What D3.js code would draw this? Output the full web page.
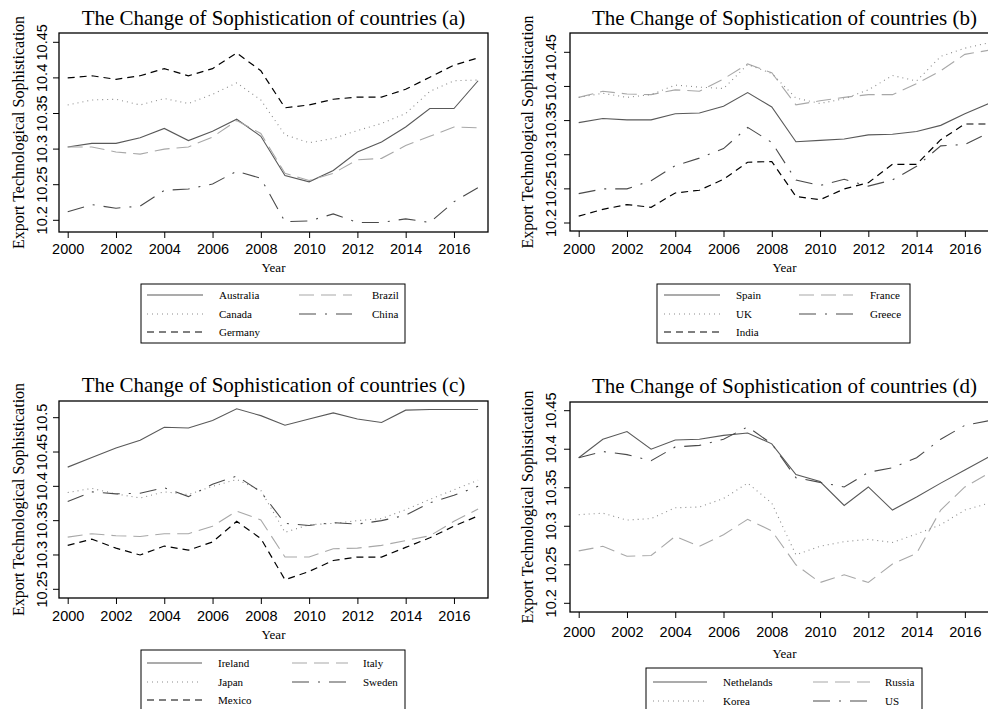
<!DOCTYPE html>
<html>
<head>
<meta charset="utf-8">
<script src="https://cdn.jsdelivr.net/npm/d3@7/dist/d3.min.js"></script>
<style>
  body { margin: 0; background: #fff; }
  svg { display: block; }
</style>
</head>
<body>
<svg id="chart" width="988" height="709"></svg>
<script>
const years = [2000, 2001, 2002, 2003, 2004, 2005, 2006, 2007, 2008, 2009, 2010, 2011, 2012, 2013, 2014, 2015, 2016, 2017];
const yearTicks = [2000, 2002, 2004, 2006, 2008, 2010, 2012, 2014, 2016];

// panel (a)
const australia = [10.303, 10.308, 10.308, 10.316, 10.329, 10.312, 10.325, 10.342, 10.318, 10.263, 10.254, 10.270, 10.296, 10.310, 10.331, 10.357, 10.357, 10.396];
const brazil    = [10.303, 10.303, 10.296, 10.293, 10.300, 10.303, 10.317, 10.340, 10.322, 10.266, 10.256, 10.266, 10.285, 10.287, 10.305, 10.318, 10.331, 10.330];
const canada    = [10.362, 10.369, 10.370, 10.362, 10.371, 10.364, 10.377, 10.393, 10.369, 10.320, 10.309, 10.315, 10.326, 10.336, 10.350, 10.381, 10.396, 10.397];
const china     = [10.212, 10.222, 10.217, 10.220, 10.242, 10.244, 10.251, 10.269, 10.259, 10.198, 10.199, 10.209, 10.197, 10.197, 10.202, 10.197, 10.226, 10.246];
const germany   = [10.400, 10.403, 10.398, 10.403, 10.413, 10.403, 10.413, 10.435, 10.410, 10.358, 10.362, 10.370, 10.373, 10.373, 10.384, 10.401, 10.418, 10.428];

// panel (b)
const spain  = [10.347, 10.353, 10.351, 10.351, 10.360, 10.361, 10.371, 10.391, 10.370, 10.319, 10.321, 10.323, 10.329, 10.330, 10.334, 10.343, 10.360, 10.375];
const france = [10.384, 10.393, 10.389, 10.388, 10.395, 10.393, 10.411, 10.433, 10.420, 10.373, 10.379, 10.384, 10.388, 10.388, 10.404, 10.423, 10.447, 10.453];
const uk     = [10.384, 10.390, 10.384, 10.388, 10.402, 10.399, 10.397, 10.432, 10.419, 10.383, 10.375, 10.382, 10.395, 10.416, 10.408, 10.444, 10.456, 10.464];
const greece = [10.243, 10.250, 10.250, 10.262, 10.284, 10.295, 10.309, 10.340, 10.318, 10.263, 10.255, 10.264, 10.254, 10.263, 10.283, 10.313, 10.315, 10.332];
const india  = [10.210, 10.220, 10.227, 10.223, 10.244, 10.248, 10.264, 10.289, 10.290, 10.239, 10.234, 10.250, 10.259, 10.286, 10.286, 10.322, 10.345, 10.345];

// panel (c)
const ireland = [10.428, 10.442, 10.456, 10.467, 10.486, 10.485, 10.496, 10.513, 10.503, 10.489, 10.498, 10.507, 10.498, 10.493, 10.511, 10.512, 10.512, 10.512];
const italy   = [10.326, 10.331, 10.328, 10.327, 10.331, 10.331, 10.342, 10.364, 10.351, 10.297, 10.297, 10.309, 10.310, 10.314, 10.321, 10.328, 10.349, 10.367];
const japan   = [10.391, 10.397, 10.389, 10.383, 10.392, 10.388, 10.400, 10.410, 10.394, 10.333, 10.344, 10.346, 10.350, 10.353, 10.366, 10.381, 10.395, 10.409];
const sweden  = [10.378, 10.392, 10.389, 10.390, 10.398, 10.385, 10.403, 10.415, 10.392, 10.346, 10.343, 10.347, 10.345, 10.350, 10.358, 10.376, 10.387, 10.400];
const mexico  = [10.314, 10.323, 10.310, 10.300, 10.313, 10.307, 10.319, 10.349, 10.324, 10.264, 10.276, 10.292, 10.297, 10.297, 10.311, 10.325, 10.342, 10.357];

// panel (d)
const nethelands = [10.389, 10.413, 10.423, 10.400, 10.412, 10.413, 10.418, 10.421, 10.407, 10.367, 10.358, 10.327, 10.351, 10.321, 10.338, 10.356, 10.373, 10.390];
const russia     = [10.268, 10.274, 10.261, 10.262, 10.287, 10.274, 10.289, 10.309, 10.294, 10.250, 10.227, 10.237, 10.227, 10.251, 10.265, 10.321, 10.351, 10.369];
const korea      = [10.315, 10.317, 10.308, 10.310, 10.324, 10.325, 10.336, 10.356, 10.330, 10.263, 10.274, 10.280, 10.283, 10.279, 10.290, 10.302, 10.321, 10.330];
const us         = [10.389, 10.397, 10.393, 10.385, 10.403, 10.405, 10.413, 10.429, 10.407, 10.363, 10.357, 10.351, 10.370, 10.376, 10.389, 10.413, 10.431, 10.437];

const ticksA = [10.2, 10.25, 10.3, 10.35, 10.4, 10.45];
const ticksC = [10.25, 10.3, 10.35, 10.4, 10.45, 10.5];

const lineStyles = {
    solid:   { stroke: '#595959', dash: null,         width: 1.1 },
    longdash:{ stroke: '#a8a8a8', dash: '15,7',       width: 1.1 },
    dot:     { stroke: '#8c8c8c', dash: '1,4',        width: 1.1 },
    dashdot: { stroke: '#4a4a4a', dash: '17,9,2,9',   width: 1.1 },
    dash:    { stroke: '#000',    dash: '7,5',        width: 1.2 }
};

const serif = '"Liberation Serif", "Times New Roman", serif';
const sans = '"Liberation Sans", Arial, sans-serif';

const panels = [
    {
        tag: 'a', frame: [59, 33, 488, 232], xr: [67.7, 478.1], yr: [220.3, 42.3], ticks: ticksA,
        titleY: 25, tickLabelX: 42, axisTitleX: 18, xLabelY: 249, yearY: 267,
        series: [['Australia', australia, 'solid'], ['Brazil', brazil, 'longdash'], ['Canada', canada, 'dot'], ['China', china, 'dashdot'], ['Germany', germany, 'dash']],
        legend: { box: [141, 284, 405, 343], rows: [295, 314, 332], cols: [[147, 203, 219], [299, 352, 372]] }
    },
    {
        tag: 'b', frame: [570, 33, 999, 231], xr: [578.7, 989], yr: [223, 52.3], ticks: ticksA,
        titleY: 25, tickLabelX: 551, axisTitleX: 527, xLabelY: 249, yearY: 267,
        series: [['Spain', spain, 'solid'], ['France', france, 'longdash'], ['UK', uk, 'dot'], ['Greece', greece, 'dashdot'], ['India', india, 'dash']],
        legend: { box: [657, 284, 910, 343], rows: [295, 314, 332], cols: [[664, 720, 736], [799, 853, 870]] }
    },
    {
        tag: 'c', frame: [59, 401, 488, 598], xr: [67.7, 478.1], yr: [589.3, 417.7], ticks: ticksC,
        titleY: 392, tickLabelX: 42, axisTitleX: 18, xLabelY: 616, yearY: 634,
        series: [['Ireland', ireland, 'solid'], ['Italy', italy, 'longdash'], ['Japan', japan, 'dot'], ['Sweden', sweden, 'dashdot'], ['Mexico', mexico, 'dash']],
        legend: { box: [141, 650, 405, 720], rows: [663, 682, 700], cols: [[147, 202, 218], [292, 348, 363]] }
    },
    {
        tag: 'd', frame: [570, 402, 999, 612], xr: [578.7, 989], yr: [603.3, 410.7], ticks: ticksA,
        titleY: 393, tickLabelX: 551, axisTitleX: 527, xLabelY: 632, yearY: 653,
        series: [['Nethelands', nethelands, 'solid'], ['Russia', russia, 'longdash'], ['Korea', korea, 'dot'], ['US', us, 'dashdot']],
        legend: { box: [646, 668, 922, 720], rows: [682, 701], cols: [[653, 707, 723], [813, 870, 885]] }
    }
];

const svg = d3.select('#chart');

panels.forEach(p => {
    const [fx0, fy0, fx1, fy1] = p.frame;
    const x = d3.scaleLinear().domain([2000, 2017]).range(p.xr);
    const y = d3.scaleLinear().domain([p.ticks[0], p.ticks[5]]).range(p.yr);
    const g = svg.append('g').classed('panel-' + p.tag, true);

    g.append('text')
        .attr('x', (fx0 + fx1) / 2)
        .attr('y', p.titleY)
        .attr('text-anchor', 'middle')
        .attr('font-family', serif)
        .attr('font-size', 21)
        .text(`The Change of Sophistication of countries (${p.tag})`);

    // y axis: ticks on frame edge, labels rotated
    const yAxis = g.append('g').attr('transform', `translate(${fx0},0)`)
        .call(d3.axisLeft(y).tickValues(p.ticks).tickSize(6).tickFormat(d3.format('')));
    yAxis.select('.domain').remove();
    yAxis.selectAll('line').attr('stroke', '#000');
    yAxis.selectAll('text')
        .attr('x', null).attr('dy', null)
        .attr('transform', d => `translate(${p.tickLabelX - fx0},${y(d)}) rotate(-90)`)
        .attr('y', 0)
        .attr('dy', '0.35em')
        .attr('text-anchor', 'middle')
        .attr('font-family', sans)
        .attr('font-size', 14.5)
        .attr('fill', '#000');
    yAxis.selectAll('.tick').attr('transform', null);
    yAxis.selectAll('.tick line')
        .attr('y1', d => y(d)).attr('y2', d => y(d))
        .attr('x1', -6).attr('x2', 0);

    // x axis
    const xAxis = g.append('g').attr('transform', `translate(0,${fy1})`)
        .call(d3.axisBottom(x).tickValues(yearTicks).tickSize(6).tickFormat(d3.format('d')));
    xAxis.select('.domain').remove();
    xAxis.selectAll('line').attr('stroke', '#000');
    xAxis.selectAll('text')
        .attr('y', p.xLabelY - fy1)
        .attr('dy', '0.35em')
        .attr('font-family', sans)
        .attr('font-size', 14.5)
        .attr('fill', '#000');

    g.append('text')
        .attr('x', (fx0 + fx1) / 2)
        .attr('y', p.yearY)
        .attr('dy', '0.35em')
        .attr('text-anchor', 'middle')
        .attr('font-family', serif)
        .attr('font-size', 13)
        .text('Year');

    g.append('text')
        .attr('transform', `translate(${p.axisTitleX},${(fy0 + fy1) / 2}) rotate(-90)`)
        .attr('dy', '0.35em')
        .attr('text-anchor', 'middle')
        .attr('font-family', serif)
        .attr('font-size', 16)
        .text('Export Technological Sophistication');

    // series
    const line = d3.line().x((d, i) => x(years[i])).y(d => y(d));
    g.selectAll('.series')
        .data(p.series)
        .enter()
        .append('path')
        .classed('series', true)
        .attr('d', d => line(d[1]))
        .attr('fill', 'none')
        .attr('stroke', d => lineStyles[d[2]].stroke)
        .attr('stroke-width', d => lineStyles[d[2]].width)
        .attr('stroke-dasharray', d => lineStyles[d[2]].dash);

    g.append('rect')
        .attr('x', fx0).attr('y', fy0)
        .attr('width', fx1 - fx0).attr('height', fy1 - fy0)
        .attr('fill', 'none')
        .attr('stroke', '#000')
        .attr('stroke-width', 1.3);

    // legend
    const lg = p.legend;
    g.append('rect')
        .attr('x', lg.box[0]).attr('y', lg.box[1])
        .attr('width', lg.box[2] - lg.box[0]).attr('height', lg.box[3] - lg.box[1])
        .attr('fill', 'none')
        .attr('stroke', '#000')
        .attr('stroke-width', 1);

    const items = g.selectAll('.legend-item')
        .data(p.series)
        .enter()
        .append('g')
        .classed('legend-item', true);
    items.append('line')
        .attr('x1', (d, i) => lg.cols[i % 2][0])
        .attr('x2', (d, i) => lg.cols[i % 2][1])
        .attr('y1', (d, i) => lg.rows[Math.floor(i / 2)])
        .attr('y2', (d, i) => lg.rows[Math.floor(i / 2)])
        .attr('stroke', d => lineStyles[d[2]].stroke)
        .attr('stroke-width', d => lineStyles[d[2]].width)
        .attr('stroke-dasharray', d => lineStyles[d[2]].dash);
    items.append('text')
        .attr('x', (d, i) => lg.cols[i % 2][2])
        .attr('y', (d, i) => lg.rows[Math.floor(i / 2)])
        .attr('dy', '0.35em')
        .attr('font-family', serif)
        .attr('font-size', 11)
        .text(d => d[0]);
});
</script>
</body>
</html>
